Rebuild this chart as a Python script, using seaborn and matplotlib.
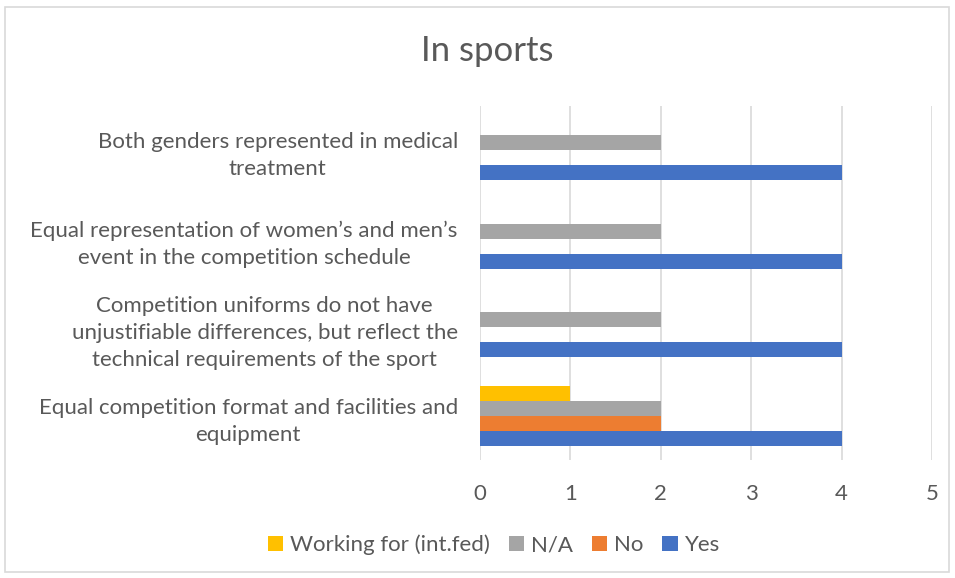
import matplotlib
matplotlib.use("Agg")
import matplotlib.pyplot as plt
import seaborn as sns
import pandas as pd
from matplotlib.patches import Rectangle

# Categories (top to bottom) and series values
categories = [
    "Both genders represented in medical\ntreatment",
    "Equal representation of women\u2019s and men\u2019s\nevent in the competition schedule",
    "Competition uniforms do not have\nunjustifiable differences, but reflect the\ntechnical requirements of the sport",
    "Equal competition format and facilities and\nequipment",
]
series_names = ["Working for (int.fed)", "N/A", "No", "Yes"]
working_for = [0, 0, 0, 1]
na_values = [2, 2, 2, 2]
no_values = [0, 0, 0, 2]
yes_values = [4, 4, 4, 4]
x_ticks = [0, 1, 2, 3, 4, 5]

colors = {
    "Working for (int.fed)": "#FFC000",
    "N/A": "#A5A5A5",
    "No": "#ED7D31",
    "Yes": "#4472C4",
}

rows = []
for name, vals in zip(series_names, [working_for, na_values, no_values, yes_values]):
    for cat, v in zip(categories, vals):
        rows.append({"category": cat, "series": name, "value": v})
df = pd.DataFrame(rows)

sns.set_theme(style="white")
plt.rcParams["font.family"] = ["Lato", "DejaVu Sans"]
text_color = "#595959"
grid_color = "#D9D9D9"

fig = plt.figure(figsize=(9.55, 5.78), dpi=100)
ax = fig.add_axes([0.5026, 0.2042, 0.4733, 0.6124])

sns.barplot(
    data=df, x="value", y="category", hue="series",
    order=categories, hue_order=series_names, palette=colors,
    orient="h", width=0.68, linewidth=0, saturation=1, ax=ax, legend=True,
)

ax.set_xlim(0, 5)
ax.set_xticks(x_ticks)
ax.set_xticklabels([str(t) for t in x_ticks])
ax.xaxis.grid(True, color=grid_color, linewidth=1.2)
ax.set_axisbelow(True)
for s in ax.spines.values():
    s.set_visible(False)
ax.set_xlabel("")
ax.set_ylabel("")
ax.tick_params(axis="x", length=0, pad=17, labelsize=16, colors=text_color)
ax.tick_params(axis="y", length=0, pad=16, labelsize=16, colors=text_color)
for lbl in ax.get_yticklabels():
    lbl.set_multialignment("center")
    lbl.set_linespacing(1.45)

leg = ax.legend(
    loc="center", bbox_to_anchor=(0.517, 0.057), bbox_transform=fig.transFigure,
    ncol=4, frameon=False, fontsize=16, handlelength=0.7, handleheight=0.7,
    handletextpad=0.3, columnspacing=0.85, labelcolor=text_color,
)

fig.text(0.51, 0.912, "In sports", ha="center", va="center", fontsize=25, color=text_color)

fig.patches.append(Rectangle((0.005, 0.01), 0.989, 0.978, transform=fig.transFigure,
                             fill=False, edgecolor=grid_color, linewidth=1.2))

fig.savefig("out.png", dpi=100, facecolor="white")
